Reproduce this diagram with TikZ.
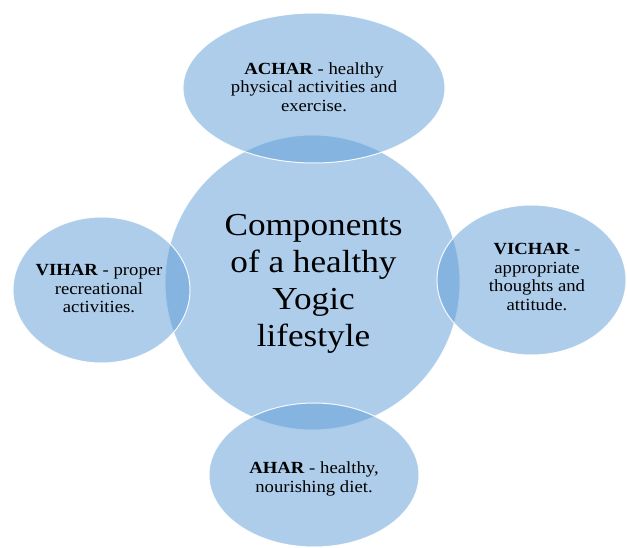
\documentclass[tikz,border=0pt]{standalone}
\usepackage{fontspec}
\setmainfont[FakeStretch=1.1]{Liberation Serif}
\usetikzlibrary{shapes.geometric}
\definecolor{accent}{RGB}{91,155,213}
\tikzset{
  blob/.style={ellipse, inner sep=0pt, fill=accent, fill opacity=0.5, draw=white, draw opacity=0.9, line width=1pt},
  smalltxt/.style={align=center, font=\fontsize{17}{18.5}\selectfont, text=black, inner sep=0pt},
  bigtxt/.style={align=center, font=\fontsize{32}{37}\selectfont, text=black, inner sep=0pt}
}
\begin{document}
\begin{tikzpicture}[x=1pt,y=-1pt]
\useasboundingbox (0,0) rectangle (627,548);
\node[blob, minimum width=295pt, minimum height=295pt] (hub) at (312.5,282.5) {};
\node[blob, minimum width=262pt, minimum height=150pt] (achar) at (314,88) {};
\node[blob, minimum width=177pt, minimum height=146pt] (vihar) at (101.5,290) {};
\node[blob, minimum width=189pt, minimum height=150pt] (vichar) at (531.5,280) {};
\node[blob, minimum width=210pt, minimum height=144pt] (ahar) at (314,475) {};
\node[bigtxt] (hubtxt) at (313.5,284) {Components\\of a healthy\\Yogic\\lifestyle};
\node[smalltxt] (achartxt) at (314,87) {\textbf{ACHAR} - healthy\\physical activities and\\exercise.};
\node[smalltxt] (vihartxt) at (99,289) {\textbf{VIHAR} - proper\\recreational\\activities.};
\node[smalltxt] (vichartxt) at (537,277) {\textbf{VICHAR} -\\appropriate\\thoughts and\\attitude.};
\node[smalltxt] (ahartxt) at (314,479) {\textbf{AHAR} - healthy,\\nourishing diet.};
\end{tikzpicture}
\end{document}
